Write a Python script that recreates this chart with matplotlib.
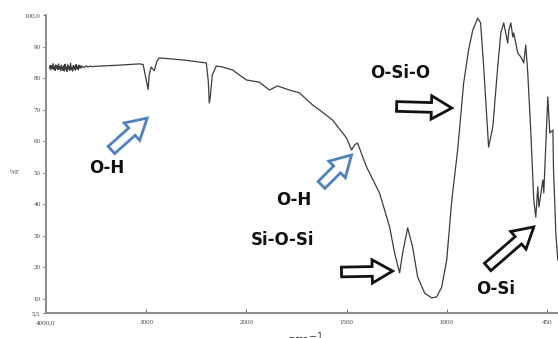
import numpy as np
import matplotlib
matplotlib.use("Agg")
import matplotlib.pyplot as plt
from matplotlib.patches import FancyArrowPatch

# ---- data ----
wavenumber = [3965, 3958, 3951, 3944, 3937, 3930, 3923, 3916, 3909, 3902, 3895, 3888,
              3881, 3874, 3867, 3860, 3853, 3846, 3839, 3832, 3825, 3818, 3811, 3804,
              3797, 3790, 3783, 3776, 3769, 3762, 3755, 3748, 3741, 3734, 3727, 3720,
              3713, 3706, 3699, 3692, 3685, 3678, 3671, 3664, 3657, 3650, 3640, 3620,
              3600, 3580, 3560, 3540, 3520,
              3465, 3267, 3069, 3030, 3010, 2980, 2970, 2950, 2920, 2890, 2870, 2620,
              2400, 2380, 2370, 2360, 2340, 2300, 2250, 2140, 2000, 1935, 1885, 1845,
              1785, 1735, 1670, 1635, 1570, 1500, 1475, 1460, 1445, 1400, 1335, 1285,
              1260, 1235, 1220, 1195, 1170, 1145, 1110, 1075, 1050, 1025, 1000, 972,
              940, 907, 880, 857, 830, 814, 797, 770, 747, 720, 703, 687, 665, 659,
              648, 637, 632, 610, 593, 577, 566, 555, 538, 522, 511, 500, 494, 472,
              467, 445, 434, 417, 414, 401, 390]
transmittance = [83.2, 84.0, 82.6, 83.9, 83.0, 84.6, 82.8, 83.7, 82.4, 84.2, 83.1, 83.8,
                 82.7, 84.5, 82.9, 83.6, 82.3, 84.1, 83.2, 82.5, 83.9, 82.2, 84.4, 82.8,
                 83.5, 82.1, 84.2, 82.9, 83.6, 82.4, 84.7, 82.7, 83.4, 82.2, 84.0, 82.9,
                 83.8, 82.5, 84.3, 83.0, 83.7, 82.6, 84.1, 83.2, 83.9, 83.1, 83.8, 83.3,
                 83.9, 83.5, 83.8, 83.6, 83.7,
                 83.8, 84.1, 84.5, 84.3, 81.0, 76.4, 81.0, 83.5, 82.3, 85.5, 86.4, 85.7,
                 84.8, 79.0, 72.1, 74.0, 81.0, 83.8, 83.6, 82.6, 79.4, 78.7, 76.2, 77.5,
                 76.2, 75.3, 71.5, 69.9, 66.7, 61.0, 57.2, 58.8, 59.4, 51.8, 43.5, 32.8,
                 24.5, 18.2, 24.5, 32.5, 26.4, 16.9, 11.8, 10.3, 10.6, 13.7, 22.3, 41.3,
                 57.2, 78.4, 88.9, 95.2, 99.0, 97.5, 83.5, 58.1, 64.5, 83.5, 94.3, 97.5,
                 91.1, 95.2, 97.5, 93.0, 94.3, 87.9, 86.7, 84.8, 90.5, 81.6, 62.6, 41.3,
                 35.9, 45.5, 39.1, 47.7, 43.6, 74.0, 62.6, 63.5, 51.8, 30.9, 22.3]

x_ticks = [4000, 3000, 2000, 1500, 1000, 450]
x_ticklabels = ["4000,0", "3000", "2000", "1500", "1000", "450"]
y_ticks = [5.5, 10, 20, 30, 40, 50, 60, 70, 80, 90, 100]
y_ticklabels = ["5,5", "10", "20", "30", "40", "50", "60", "70", "80", "90", "100,0"]

# piecewise-linear wavenumber axis (as on the instrument printout)
bp_wn = np.array([0, 450, 1000, 1500, 2000, 3000, 4000, 5000], dtype=float)
bp_pos = np.array([-5 - 450 / 550, -5, -4, -3, -2, -1, 0, 1], dtype=float)

def fwd(w):
    return np.interp(np.asarray(w, dtype=float), bp_wn, bp_pos)

def inv(p):
    return np.interp(np.asarray(p, dtype=float), bp_pos, bp_wn)

W, H = 558, 338
fig = plt.figure(figsize=(W / 100, H / 100), dpi=100)
ax = fig.add_axes([46 / W, 1 - 313 / H, (558 - 46) / W, (313 - 15) / H])
ax.set_xscale("function", functions=(fwd, inv))
ax.plot(wavenumber, transmittance, color="#3c3c3c", lw=0.9)
ax.set_xlim(4000, 389)
ax.set_ylim(5.5, 100)

for s in ["top", "right"]:
    ax.spines[s].set_visible(False)
for s in ["left", "bottom"]:
    ax.spines[s].set_color("#8a8a8a")
    ax.spines[s].set_linewidth(1.4)

ax.set_xticks(x_ticks)
ax.set_xticklabels(x_ticklabels)
ax.set_yticks(y_ticks)
ax.set_yticklabels(y_ticklabels)
ax.xaxis.set_minor_locator(matplotlib.ticker.NullLocator())
ax.tick_params(axis="x", direction="in", length=3, width=0.8, color="#777777",
               labelsize=5, pad=5, labelcolor="#444444")
ax.tick_params(axis="y", direction="out", length=2, width=0.8, color="#777777",
               labelsize=5, pad=2, labelcolor="#444444")
for lab in ax.get_xticklabels() + ax.get_yticklabels():
    lab.set_family("Liberation Serif")

fig.text(15 / W, 1 - 173 / H, "%T", fontsize=5, family="Liberation Serif",
         color="#444444", ha="center", va="center")
fig.text(305 / W, 1 - 330 / H, "cm$^{-1}$", fontsize=10, family="DejaVu Sans",
         color="#444444", ha="center", va="top", fontweight="bold")

# labels
lab_kw = dict(fontsize=12, fontweight="bold", color="#111111", family="DejaVu Sans",
              ha="center", va="center")
ax.text(3396, 51.5, "O-H", **lab_kw)
ax.text(1765, 41.3, "O-H", **lab_kw)
ax.text(1230, 81.6, "O-Si-O", **lab_kw)
ax.text(1820, 28.6, "Si-O-Si", **lab_kw)
ax.text(730, 13.1, "O-Si", **lab_kw)

def hollow_arrow(tail, tip, color):
    a = FancyArrowPatch(tail, tip, arrowstyle="simple,head_width=1.2,head_length=1.05,tail_width=0.5",
                        mutation_scale=14, facecolor="white", edgecolor=color, lw=2.0,
                        transform=ax.transData, shrinkA=0, shrinkB=0, joinstyle="miter")
    ax.add_patch(a)

blue = "#4f81bd"
hollow_arrow((3347, 57.2), (2990, 67.3), blue)
hollow_arrow((1625, 46.1), (1475, 55.6), blue)
hollow_arrow((1250, 71.0), (972, 70.5), "#111111")
hollow_arrow((1525, 18.5), (1270, 18.8), "#111111")
hollow_arrow((775, 20.1), (522, 32.8), "#111111")

fig.savefig("out.png", dpi=100)
